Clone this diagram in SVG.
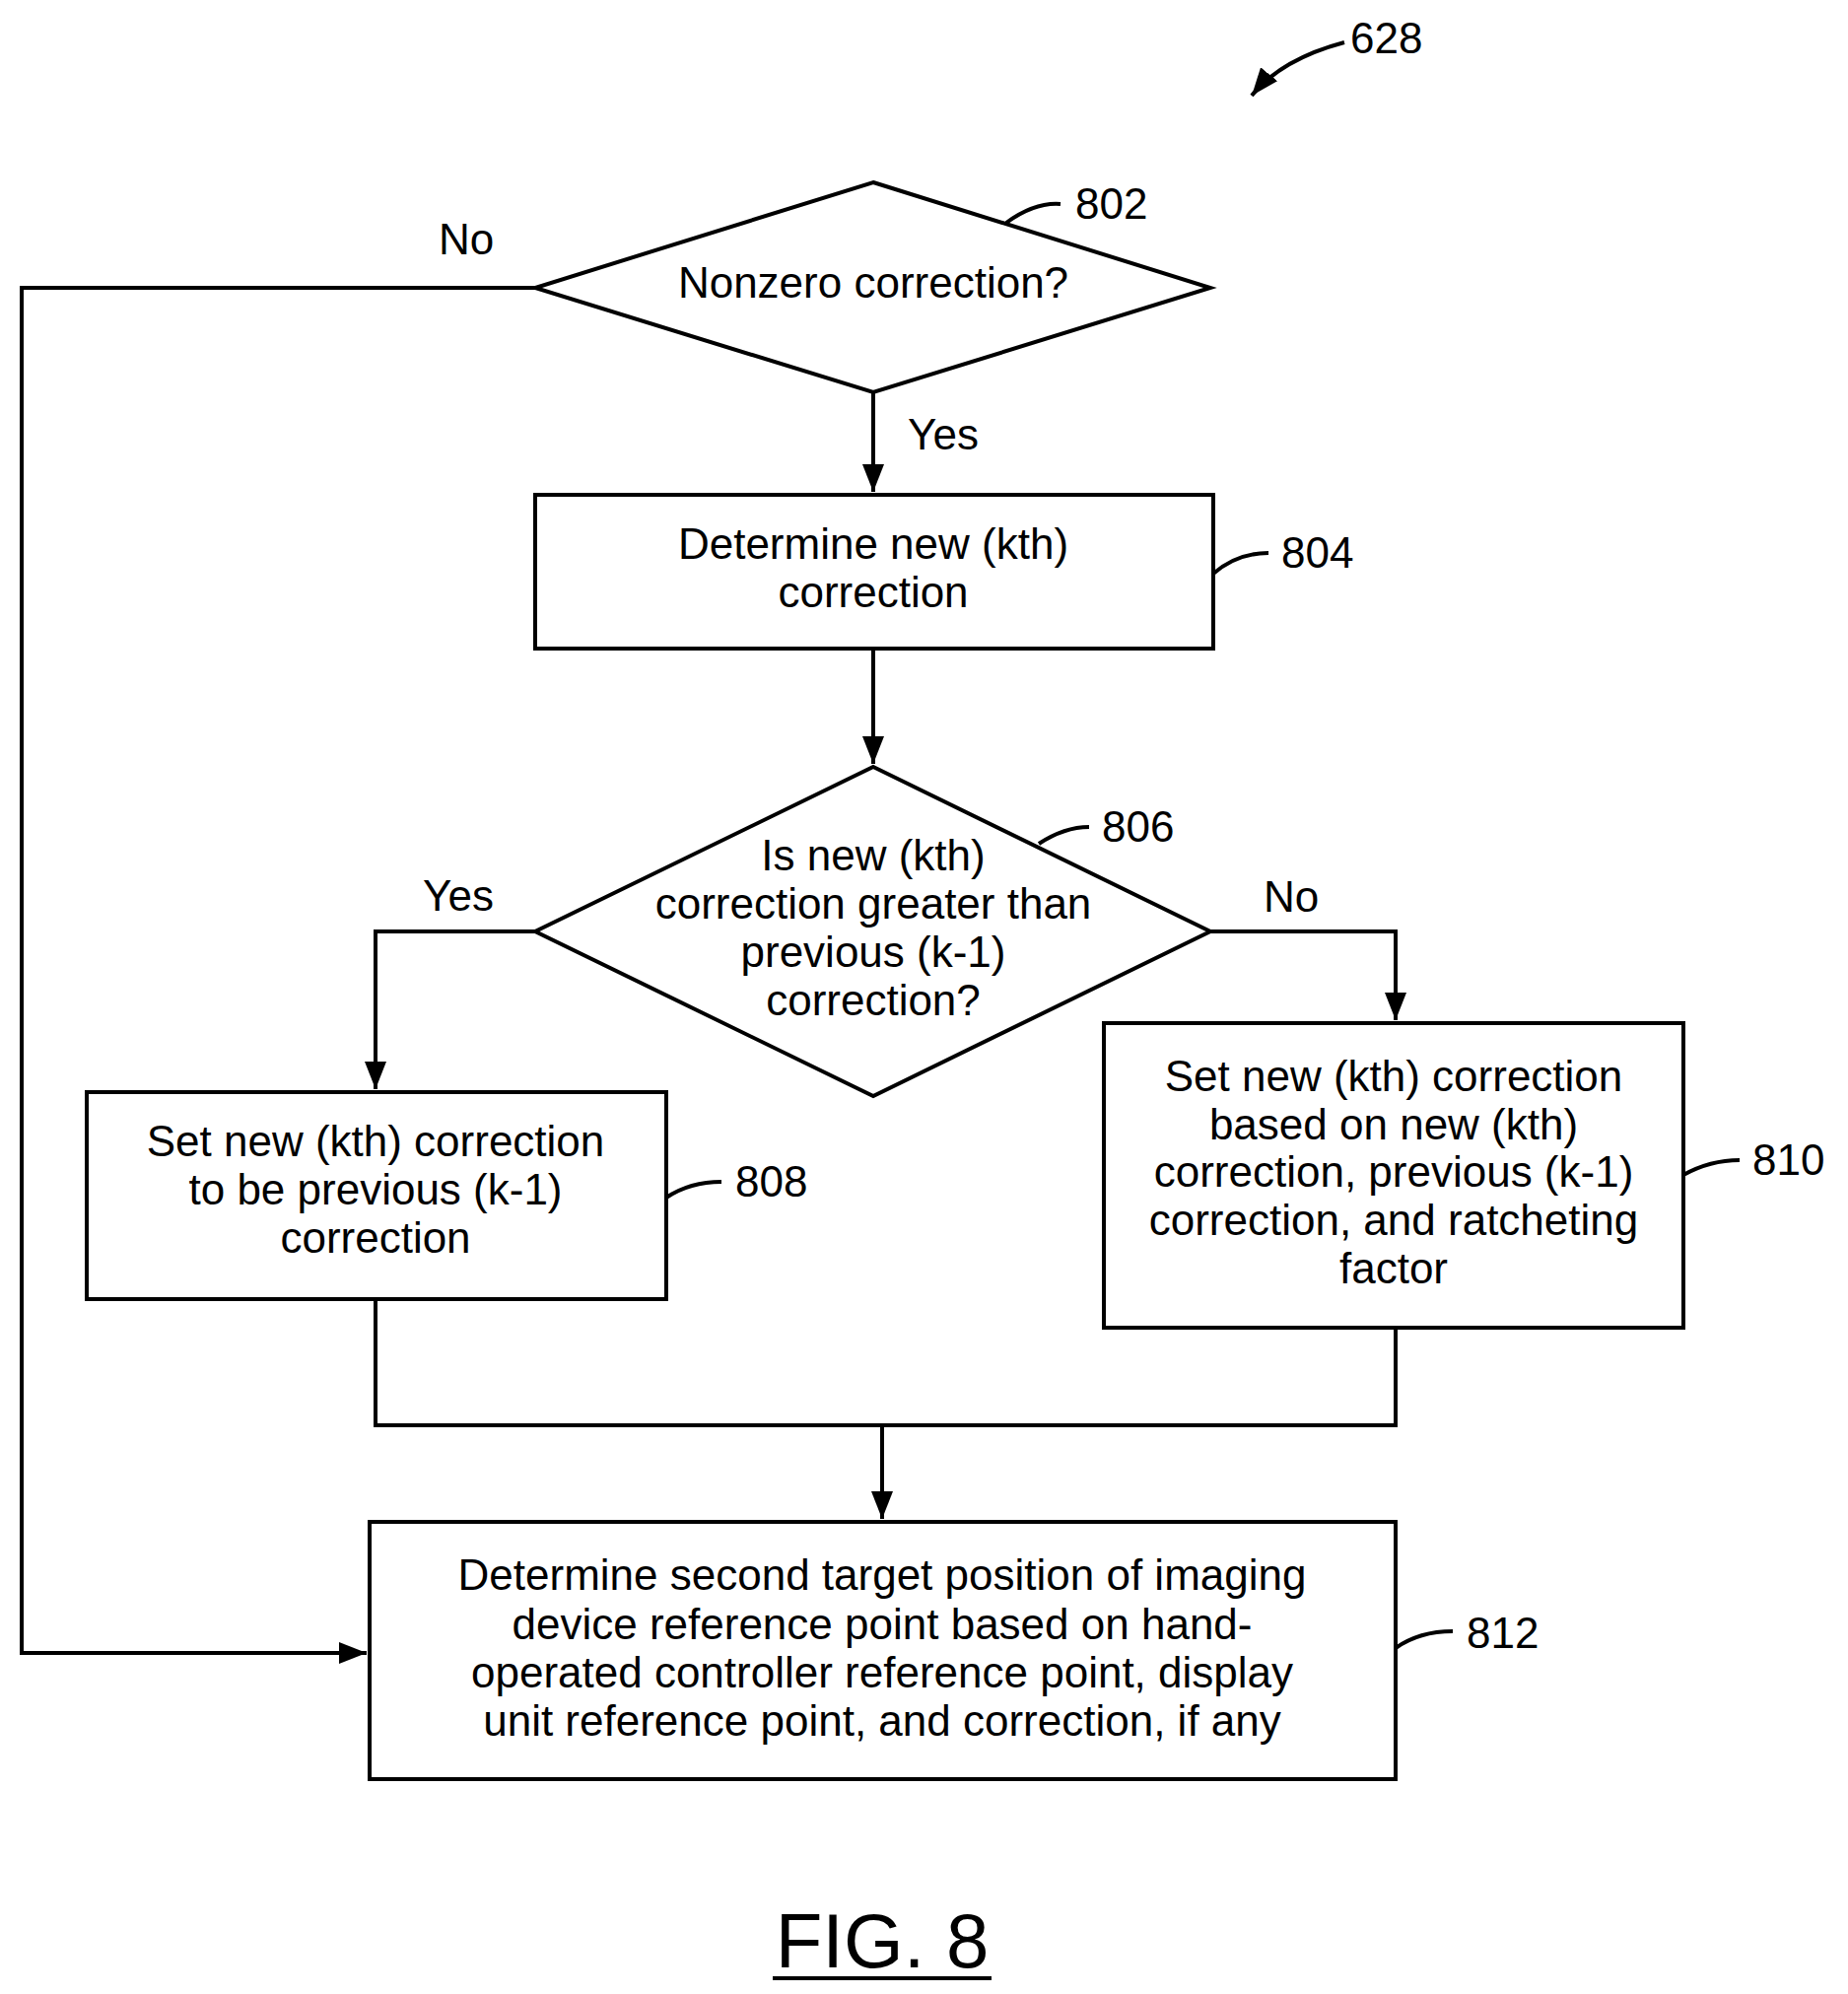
<svg xmlns="http://www.w3.org/2000/svg" width="1875" height="2023" viewBox="0 0 1875 2023">
<style>
.s{fill:none;stroke:#000;stroke-width:4}
.b{fill:#fff;stroke:#000;stroke-width:4}
text{font-family:"Liberation Sans",Arial,sans-serif;font-size:44px;fill:#000;text-anchor:middle}
.l{text-anchor:start}
</style>
<defs>
<marker id="a" markerWidth="10" markerHeight="10" refX="10" refY="5" orient="auto" markerUnits="userSpaceOnUse" viewBox="0 0 10 10">
<path d="M0,0 L10,5 L0,10 Z" fill="#000" transform="scale(1)"/>
</marker>
<marker id="A" markerWidth="28" markerHeight="22" refX="28" refY="11" orient="auto" markerUnits="userSpaceOnUse">
<path d="M0,0 L28,11 L0,22 Z" fill="#000"/>
</marker>
</defs>
<rect width="1875" height="2023" fill="#fff"/>
<g id="connectors">
<path class="s" d="M543,292 H22 V1677 H372" marker-end="url(#A)"/>
<path class="s" d="M886,398 V499" marker-end="url(#A)"/>
<path class="s" d="M886,658 V775" marker-end="url(#A)"/>
<path class="s" d="M543,945 H381 V1105" marker-end="url(#A)"/>
<path class="s" d="M1228,945 H1416 V1035" marker-end="url(#A)"/>
<path class="s" d="M381,1318 V1446 H1416 V1347"/>
<path class="s" d="M895,1446 V1541" marker-end="url(#A)"/>
<path class="s" d="M1364,43 Q1300,60 1270,97" marker-end="url(#A)"/>
<text x="473" y="258">No</text>
<text x="957" y="456">Yes</text>
<text x="465" y="924">Yes</text>
<text x="1310" y="925">No</text>
</g>
<g id="n802">
<polygon class="b" points="886,185 1228,292 886,398 543,292"/>
<text x="886" y="302">Nonzero correction?</text>
<path class="s" d="M1021,226 Q1050,205 1076,207"/>
<text class="l" x="1091" y="222">802</text>
</g>
<g id="n804">
<rect class="b" x="543" y="502" width="688" height="156"/>
<text x="886" y="567">Determine new (kth)</text>
<text x="886" y="616">correction</text>
<path class="s" d="M1231,582 Q1255,561 1287,561"/>
<text class="l" x="1300" y="576">804</text>
</g>
<g id="n806">
<polygon class="b" points="886,778 1228,945 886,1112 543,945"/>
<text x="886" y="883">Is new (kth)</text>
<text x="886" y="932">correction greater than</text>
<text x="886" y="981">previous (k-1)</text>
<text x="886" y="1030">correction?</text>
<path class="s" d="M1054,856 Q1080,839 1105,839"/>
<text class="l" x="1118" y="854">806</text>
</g>
<g id="n808">
<rect class="b" x="88" y="1108" width="588" height="210"/>
<text x="381" y="1173">Set new (kth) correction</text>
<text x="381" y="1222">to be previous (k-1)</text>
<text x="381" y="1271">correction</text>
<path class="s" d="M676,1215 Q700,1199 732,1199"/>
<text class="l" x="746" y="1214">808</text>
</g>
<g id="n810">
<rect class="b" x="1120" y="1038" width="588" height="309"/>
<text x="1414" y="1107">Set new (kth) correction</text>
<text x="1414" y="1156">based on new (kth)</text>
<text x="1414" y="1204">correction, previous (k-1)</text>
<text x="1414" y="1253">correction, and ratcheting</text>
<text x="1414" y="1302">factor</text>
<path class="s" d="M1708,1192 Q1735,1177 1765,1177"/>
<text class="l" x="1778" y="1192">810</text>
</g>
<g id="n812">
<rect class="b" x="375" y="1544" width="1041" height="261"/>
<text x="895" y="1613">Determine second target position of imaging</text>
<text x="895" y="1663">device reference point based on hand-</text>
<text x="895" y="1712">operated controller reference point, display</text>
<text x="895" y="1761">unit reference point, and correction, if any</text>
<path class="s" d="M1416,1672 Q1440,1655 1474,1655"/>
<text class="l" x="1488" y="1672">812</text>
</g>
<g id="labels">
<text class="l" x="1370" y="54">628</text>
<text x="895" y="1996" style="font-size:78px">FIG. 8</text>
<line x1="784" y1="2007" x2="1006" y2="2007" stroke="#000" stroke-width="4"/>
</g>
</svg>
